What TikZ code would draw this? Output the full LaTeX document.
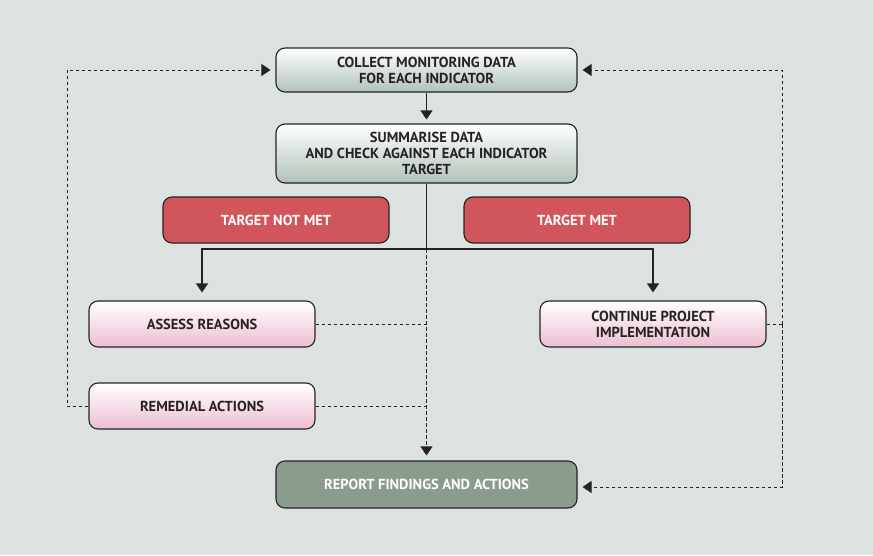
\documentclass[tikz,border=0pt]{standalone}
\usepackage{fontspec}
\setmainfont{PT Sans}[BoldFont={PT Sans Bold}]
\usetikzlibrary{arrows.meta,positioning}
\definecolor{panelbg}{RGB}{220,226,223}
\definecolor{stepgrey}{RGB}{176,194,184}
\definecolor{alertred}{RGB}{208,86,91}
\definecolor{rosepink}{RGB}{236,190,210}
\definecolor{reportgreen}{RGB}{138,156,142}
\definecolor{edgedark}{RGB}{38,34,36}

\tikzset{
  box/.style={draw=edgedark, line width=1.1pt, rounded corners=9pt, align=center,
    font=\fontsize{14.5}{16}\selectfont\bfseries, text=edgedark, inner sep=0pt},
  greybox/.style={box, top color=white, bottom color=stepgrey, minimum width=301pt},
  redbox/.style={box, fill=alertred, text=white, minimum width=226pt, minimum height=46pt},
  pinkbox/.style={box, top color=white, bottom color=rosepink, minimum width=226pt, minimum height=46pt},
  flow/.style={draw=edgedark, line width=1.1pt, -{Triangle[width=12pt,length=9pt]}},
  loop/.style={draw=edgedark, line width=1pt, dash pattern=on 3.5pt off 2.5pt},
  looparrow/.style={loop, -{Triangle[width=12pt,length=9pt]}}
}

\begin{document}
\begin{tikzpicture}[x=1pt,y=-1pt]
  % background panel
  \fill[panelbg] (0,0) rectangle (873,555);
  \useasboundingbox (0,0) rectangle (873,555);

  % boxes
  \node[greybox, minimum height=44pt] (collect) at (426.5,70) {COLLECT MONITORING DATA\\FOR EACH INDICATOR};
  \node[greybox, minimum height=59pt] (summarise) at (426.5,153.5) {SUMMARISE DATA\\AND CHECK AGAINST EACH INDICATOR\\TARGET};
  \node[redbox] (notmet) at (276,220) {TARGET NOT MET};
  \node[redbox] (met) at (577,220) {TARGET MET};
  \node[pinkbox] (assess) at (202,324) {ASSESS REASONS};
  \node[pinkbox] (continue) at (653,324) {CONTINUE PROJECT\\IMPLEMENTATION};
  \node[pinkbox] (remedial) at (202,406) {REMEDIAL ACTIONS};
  \node[box, fill=reportgreen, text=white, minimum width=301pt, minimum height=47pt] (report) at (426.5,484.5) {REPORT FINDINGS AND ACTIONS};

  % helper points
  \coordinate (split) at (426.5,249);
  \coordinate (leftrail) at (67,406);
  \coordinate (rightrail) at (782,324);

  % solid flow
  \draw[flow, shorten >=4pt] (collect) -- (summarise);
  \draw[draw=edgedark, line width=1.1pt] (summarise.south) -- (split);
  \draw[flow, shorten >=8pt] (split) -| (assess.north);
  \draw[flow, shorten >=8pt] (split) -| (continue.north);

  % dashed loops
  \draw[looparrow, shorten >=5pt] (split) -- (report.north);
  \draw[loop] (assess.east) -- (assess.east -| split);
  \draw[loop] (remedial.east) -- (remedial.east -| split);
  \draw[looparrow, shorten >=5pt] (remedial.west) -- (leftrail) |- (collect.west);
  \draw[loop] (continue.east) -- (rightrail);
  \draw[looparrow, shorten >=5pt] (rightrail) |- (collect.east);
  \draw[looparrow, shorten >=5pt] (rightrail) |- (report.east |- 0,487);
\end{tikzpicture}
\end{document}
